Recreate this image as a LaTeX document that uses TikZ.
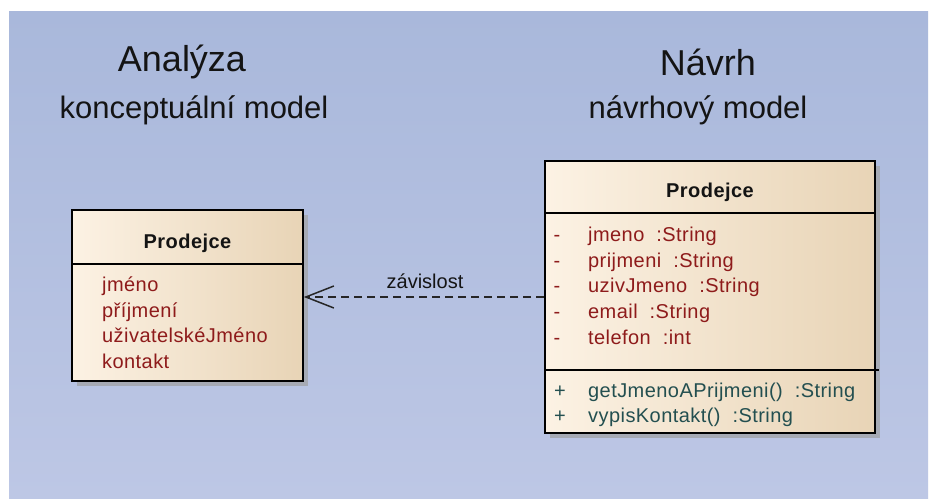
\documentclass[tikz,border=0pt]{standalone}
\usepackage{fontspec}
\setmainfont{Liberation Sans}
\usetikzlibrary{arrows.meta,shadows}

\definecolor{bgtop}{HTML}{A9B8DB}
\definecolor{bgbottom}{HTML}{BDC7E5}
\definecolor{boxL}{HTML}{FCF2E4}
\definecolor{boxR}{HTML}{E8D4B6}
\definecolor{shadowgray}{HTML}{A6AAB4}
\definecolor{attrred}{HTML}{8E1B1B}
\definecolor{opteal}{HTML}{234F50}
\definecolor{inkdark}{HTML}{141414}

\newcommand{\fs}[1]{\fontsize{#1}{#1}\selectfont}
\newcommand{\boxfont}{\fs{20}\addfontfeature{LetterSpace=2.2}}

\begin{document}
\begin{tikzpicture}[x=1pt,y=-1pt,
  classbox/.style={draw=black, line width=1.6pt, rectangle, inner sep=0pt,
    left color=boxL, right color=boxR,
    drop shadow={shadow xshift=5pt, shadow yshift=-5pt, fill=shadowgray, opacity=1}},
  sepline/.style={draw=black, line width=1.4pt},
  title/.style={inner sep=0pt, text=inkdark, font=\fs{36}},
  subtitle/.style={inner sep=0pt, text=inkdark, font=\fs{31}},
  header/.style={inner sep=0pt, anchor=base, text=inkdark, font=\boxfont\bfseries},
  attr/.style={inner sep=0pt, anchor=base west, text=attrred, font=\boxfont},
  oper/.style={inner sep=0pt, anchor=base west, text=opteal, font=\boxfont},
  vis/.style={inner sep=0pt, anchor=base, font=\boxfont},
  depline/.style={draw=black!85, line width=1.5pt, dash pattern=on 8pt off 5pt,
    -{Straight Barb[length=28pt,width=22pt,line width=1.5pt]}},
  deplabel/.style={inner sep=0pt, text=inkdark, font=\fs{20}}
]
% page and backdrop
\useasboundingbox (0,0) rectangle (930,499);
\fill[white] (0,0) rectangle (930,499);
\shade[top color=bgtop, bottom color=bgbottom] (9,11) rectangle (928,498);

% headings
\node[title]    (antitle) at (182,62)  {Analýza};
\node[subtitle] (ansub)   at (194,110) {konceptuální model};
\node[title]    (dztitle) at (708,62)  {Návrh};
\node[subtitle] (dzsub)   at (698,110) {návrhový model};

% conceptual class
\node[classbox, minimum width=231pt, minimum height=171pt] (lbox) at (187.5,295.5) {};
\draw[sepline] (lbox.west |- 0,264) -- (lbox.east |- 0,264);
\node[header] (lname) at (187.5,248) {Prodejce};
\node[attr] (la1) at (102,291.5) {jméno};
\node[attr] (la2) at (102,317)   {příjmení};
\node[attr] (la3) at (102,342.5) {uživatelskéJméno};
\node[attr] (la4) at (102,368)   {kontakt};

% design class
\node[classbox, minimum width=330pt, minimum height=272pt] (rbox) at (710,297) {};
\draw[sepline] (rbox.west |- 0,213) -- (rbox.east |- 0,213);
\draw[sepline] (rbox.west |- 0,370) -- ([xshift=3pt]rbox.east |- 0,370);
\node[header] (rname) at (710,197) {Prodejce};

\node[vis, text=attrred] (rv1) at (557,241)   {-};
\node[vis, text=attrred] (rv2) at (557,267)   {-};
\node[vis, text=attrred] (rv3) at (557,292.5) {-};
\node[vis, text=attrred] (rv4) at (557,318)   {-};
\node[vis, text=attrred] (rv5) at (557,344)   {-};
\node[attr] (ra1) at (588,241)   {jmeno\ \ :String};
\node[attr] (ra2) at (588,267)   {prijmeni\ \ :String};
\node[attr] (ra3) at (588,292.5) {uzivJmeno\ \ :String};
\node[attr] (ra4) at (588,318)   {email\ \ :String};
\node[attr] (ra5) at (588,344)   {telefon\ \ :int};

\node[vis, text=opteal] (rv6) at (560,397) {+};
\node[vis, text=opteal] (rv7) at (560,422) {+};
\node[oper] (ro1) at (588,397) {getJmenoAPrijmeni()\ \ :String};
\node[oper] (ro2) at (588,422) {vypisKontakt()\ \ :String};

% dependency
\draw[depline] (rbox.west) -- (rbox.west -| lbox.east);
\node[deplabel] (deplbl) at (425,281) {závislost};
\end{tikzpicture}
\end{document}
